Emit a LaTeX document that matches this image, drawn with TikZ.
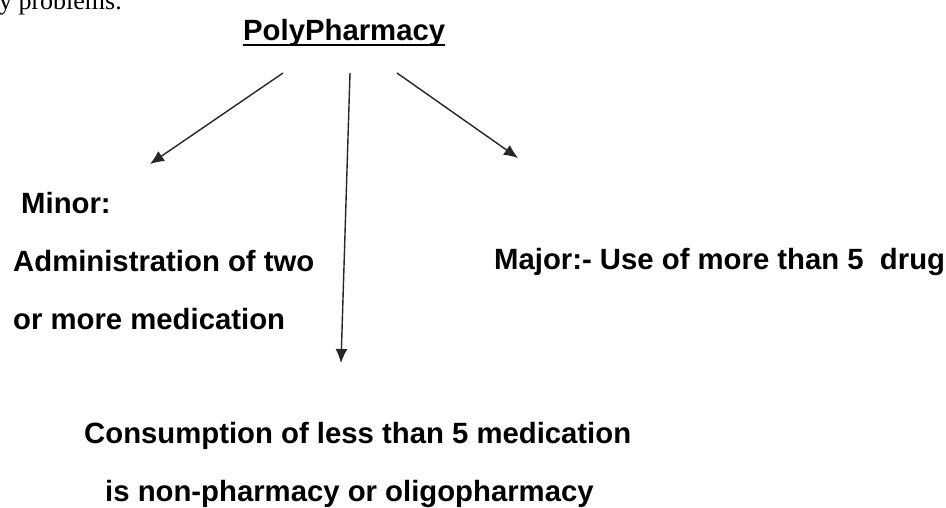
\documentclass[tikz,border=0pt]{standalone}
\usepackage{fontspec}
\setmainfont{Liberation Sans}
\newfontfamily\serifface{Liberation Serif}
\usetikzlibrary{arrows.meta,calc}
\tikzset{
  lbl/.style={inner sep=0pt, anchor=base west, font=\bfseries\fontsize{29.3}{35}\selectfont, text=black},
  arr/.style={draw=black!85, line width=1.4pt, -{Latex[length=14pt,width=12pt]}}
}
\begin{document}
\begin{tikzpicture}[x=1pt,y=-1pt]
\useasboundingbox (0,0) rectangle (946,507);
\node[inner sep=0pt, anchor=base east, font=\serifface\fontsize{26}{30}\selectfont] (prev) at (122,9) {y problems.};
\node[lbl] (poly) at (243,40) {PolyPharmacy};
\draw[line width=2pt] ($(poly.base west)+(0,5)$) -- ($(poly.base east)+(0,5)$);
\node[lbl] (minor) at (21,213) {Minor:};
\node[lbl] (admin) at (13,271) {Administration of two};
\node[lbl] (ormore) at (13,329) {or more medication};
\node[lbl] (major) at (494,269) {Major:- Use of more than 5~ drug};
\node[lbl] (cons) at (84,443) {Consumption of less than 5 medication};
\node[lbl] (isnon) at (105,501) {is non-pharmacy or oligopharmacy};
\coordinate (lstart) at (283,73);
\coordinate (lend) at (150,164);
\coordinate (mstart) at (350,73);
\coordinate (mend) at (341,363);
\coordinate (rstart) at (397,73);
\coordinate (rend) at (518,158);
\draw[arr] (lstart) -- (lend);
\draw[arr] (mstart) -- (mend);
\draw[arr] (rstart) -- (rend);
\end{tikzpicture}
\end{document}
